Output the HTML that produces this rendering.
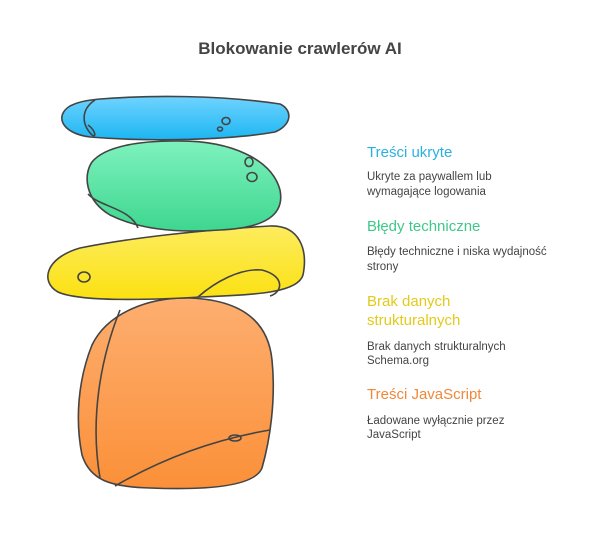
<!DOCTYPE html>
<html><head><meta charset="utf-8"><style>
body{margin:0;background:#fff;width:600px;height:541px;overflow:hidden;font-family:"Liberation Sans",sans-serif}
</style></head><body>
<svg width="600" height="541" viewBox="0 0 600 541" xmlns="http://www.w3.org/2000/svg">
<defs>
<linearGradient id="gb" x1="0" y1="0" x2="0" y2="1"><stop offset="0" stop-color="#6fd3ff"/><stop offset="1" stop-color="#1cb6f2"/></linearGradient>
<linearGradient id="gg" x1="0" y1="0" x2="0" y2="1"><stop offset="0" stop-color="#7ef2bd"/><stop offset="1" stop-color="#3ed690"/></linearGradient>
<linearGradient id="gy" x1="0" y1="0" x2="0" y2="1"><stop offset="0" stop-color="#fdec5e"/><stop offset="1" stop-color="#fbe112"/></linearGradient>
<linearGradient id="go" x1="0" y1="0" x2="0" y2="1"><stop offset="0" stop-color="#fdae70"/><stop offset="1" stop-color="#fb9038"/></linearGradient>
</defs>
<g stroke="#444" stroke-width="1.6" fill="none">
<path d="M190 298 C240 300 268 320 272 360 C276 400 270 440 262 468 C254 488 200 490 150 488 C110 487 90 480 82 455 C75 420 78 380 92 345 C108 312 150 297 190 298 Z" fill="url(#go)"/>
<path d="M120 310 C100 360 90 420 100 478" />
<path d="M115 486 C160 460 210 440 270 430"/>
<ellipse cx="235" cy="438" rx="6" ry="3"/>
<path d="M80 248 C130 238 200 230 270 226 C300 225 308 250 303 275 C298 292 260 295 200 297 C150 300 80 302 58 292 C40 282 45 258 80 248 Z" fill="url(#gy)"/>
<path d="M198 297 C215 282 240 268 262 270 C285 276 283 292 270 296"/>
<ellipse cx="84" cy="277" rx="6" ry="5"/>
<path d="M175 141 C232 140 272 160 280 190 C285 215 265 228 220 230 C180 233 140 230 110 215 C85 200 83 175 92 162 C105 146 140 141 175 141 Z" fill="url(#gg)"/>
<path d="M88 194 C100 207 130 208 138 228"/>
<ellipse cx="249" cy="162" rx="4" ry="4.5"/>
<ellipse cx="252" cy="177" rx="5" ry="4.5"/>
<path d="M100 99 C150 95 220 95 280 104 C293 110 292 125 275 132 C230 140 150 142 90 137 C60 133 55 115 70 106 C80 101 90 100 100 99 Z" fill="url(#gb)"/>
<path d="M95 100 C80 110 82 125 92 135 C97 138 95 130 88 125"/>
<ellipse cx="226" cy="121" rx="4" ry="3.5"/>
<ellipse cx="220" cy="129" rx="2.5" ry="2"/>
</g>
<g font-family="Liberation Sans, sans-serif">
<text x="300" y="54" text-anchor="middle" font-size="17" font-weight="bold" fill="#444">Blokowanie crawlerów AI</text>
<text x="367" y="157" font-size="15" fill="#2ab0e0">Treści ukryte</text>
<text x="367" y="180" font-size="11.5" fill="#444">Ukryte za paywallem lub</text>
<text x="367" y="195" font-size="11.5" fill="#444">wymagające logowania</text>
<text x="367" y="231" font-size="15" fill="#3ec98a">Błędy techniczne</text>
<text x="367" y="255" font-size="11.5" fill="#444">Błędy techniczne i niska wydajność</text>
<text x="367" y="270" font-size="11.5" fill="#444">strony</text>
<text x="367" y="306" font-size="15" fill="#e3ca1a">Brak danych</text>
<text x="367" y="325" font-size="15" fill="#e3ca1a">strukturalnych</text>
<text x="367" y="350" font-size="11.5" fill="#444">Brak danych strukturalnych</text>
<text x="367" y="364" font-size="11.5" fill="#444">Schema.org</text>
<text x="367" y="399" font-size="15" fill="#f0883a">Treści JavaScript</text>
<text x="367" y="424" font-size="11.5" fill="#444">Ładowane wyłącznie przez</text>
<text x="367" y="438" font-size="11.5" fill="#444">JavaScript</text>
</g>
</svg>
</body></html>
